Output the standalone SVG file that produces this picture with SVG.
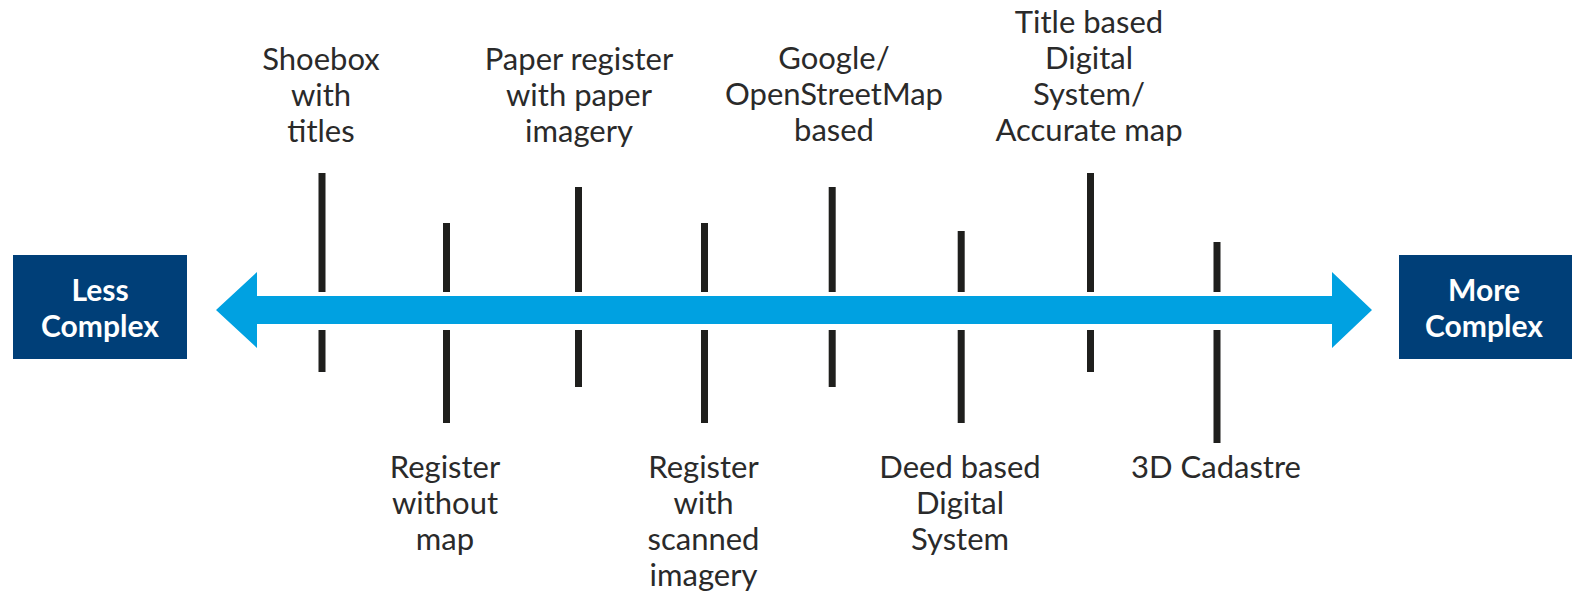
<svg xmlns="http://www.w3.org/2000/svg" width="1572" height="598" viewBox="0 0 1572 598">
<style>
.lbl{font-family:Lato,"Open Sans","Liberation Sans",sans-serif;font-size:31px;fill:#2a2a2a;text-anchor:middle}
.box{fill:#003f78}
.bt{font-family:Lato,"Open Sans","Liberation Sans",sans-serif;font-size:30px;font-weight:bold;fill:#ffffff;text-anchor:middle}
.tick{fill:#1f1f1d}
</style>
<rect width="1572" height="598" fill="#ffffff"/>
<g id="less-complex">
<rect class="box" x="13" y="255" width="174" height="104"/>
<text class="bt" x="100" y="301">Less</text>
<text class="bt" x="100" y="337">Complex</text>
</g>
<g id="more-complex">
<rect class="box" x="1399" y="255" width="173" height="104"/>
<text class="bt" x="1484" y="301">More</text>
<text class="bt" x="1484" y="337">Complex</text>
</g>
<g id="connectors">
<path d="M216,310 L257,272 L257,296 L1332,296 L1332,272 L1372,310 L1332,348 L1332,324 L257,324 L257,348 Z" fill="#00a1e1"/>
<rect class="tick" x="318.5" y="173" width="7" height="119"/>
<rect class="tick" x="318.5" y="330" width="7" height="42"/>
<rect class="tick" x="443" y="223" width="7" height="69"/>
<rect class="tick" x="443" y="330" width="7" height="93"/>
<rect class="tick" x="575" y="187" width="7" height="105"/>
<rect class="tick" x="575" y="330" width="7" height="57"/>
<rect class="tick" x="701" y="223" width="7" height="69"/>
<rect class="tick" x="701" y="330" width="7" height="93"/>
<rect class="tick" x="828.7" y="187" width="7" height="105"/>
<rect class="tick" x="828.7" y="330" width="7" height="57"/>
<rect class="tick" x="957.7" y="231" width="7" height="61"/>
<rect class="tick" x="957.7" y="330" width="7" height="93"/>
<rect class="tick" x="1087" y="173" width="7" height="119"/>
<rect class="tick" x="1087" y="330" width="7" height="42"/>
<rect class="tick" x="1213.5" y="242" width="7" height="50"/>
<rect class="tick" x="1213.5" y="330" width="7" height="113"/>
</g>
<g id="shoebox">
<text class="lbl" x="321" y="70">Shoebox</text>
<text class="lbl" x="321" y="106">with</text>
<text class="lbl" x="321" y="142">titles</text>
</g>
<g id="register-without-map">
<text class="lbl" x="445" y="478">Register</text>
<text class="lbl" x="445" y="514">without</text>
<text class="lbl" x="445" y="550">map</text>
</g>
<g id="paper-register">
<text class="lbl" x="579" y="70">Paper register</text>
<text class="lbl" x="579" y="106">with paper</text>
<text class="lbl" x="579" y="142">imagery</text>
</g>
<g id="register-scanned">
<text class="lbl" x="703.5" y="478">Register</text>
<text class="lbl" x="703.5" y="514">with</text>
<text class="lbl" x="703.5" y="550">scanned</text>
<text class="lbl" x="703.5" y="586">imagery</text>
</g>
<g id="google-osm">
<text class="lbl" x="834" y="69">Google/</text>
<text class="lbl" x="834" y="105">OpenStreetMap</text>
<text class="lbl" x="834" y="141">based</text>
</g>
<g id="deed-based">
<text class="lbl" x="960" y="478">Deed based</text>
<text class="lbl" x="960" y="514">Digital</text>
<text class="lbl" x="960" y="550">System</text>
</g>
<g id="title-based">
<text class="lbl" x="1089" y="33">Title based</text>
<text class="lbl" x="1089" y="69">Digital</text>
<text class="lbl" x="1089" y="105">System/</text>
<text class="lbl" x="1089" y="141">Accurate map</text>
</g>
<g id="cadastre-3d">
<text class="lbl" x="1216" y="478">3D Cadastre</text>
</g>
</svg>
